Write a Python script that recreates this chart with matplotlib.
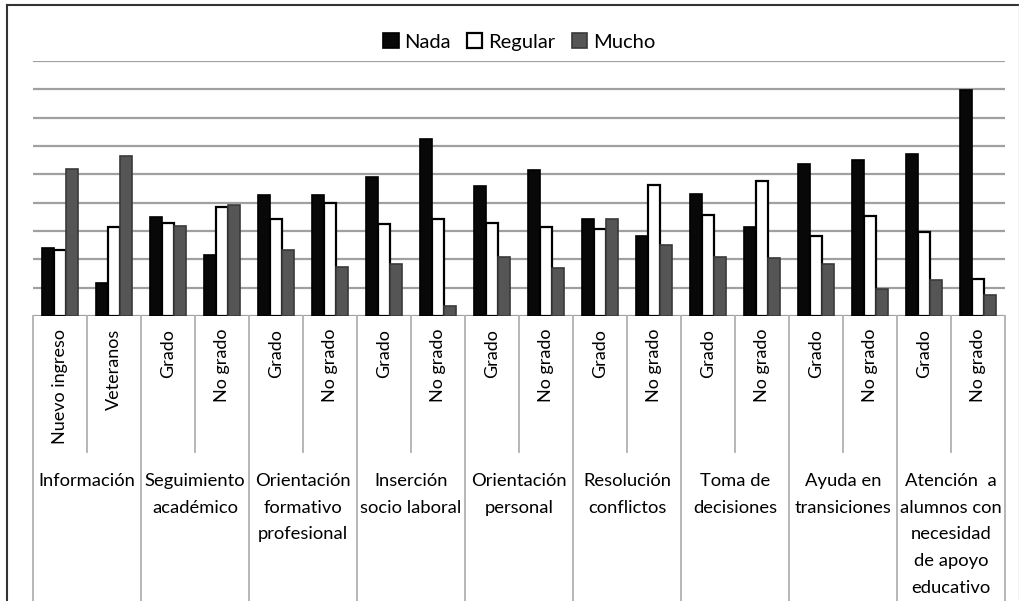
import matplotlib.pyplot as plt
import matplotlib.transforms as mtransforms
from matplotlib.lines import Line2D
import numpy as np

plt.rcParams['font.family'] = ['Lato', 'DejaVu Sans']

categorias = ["Información", "Seguimiento\nacadémico", "Orientación\nformativo\nprofesional",
              "Inserción\nsocio laboral", "Orientación\npersonal", "Resolución\nconflictos",
              "Toma de\ndecisiones", "Ayuda en\ntransiciones",
              "Atención  a\nalumnos con\nnecesidad\nde apoyo\neducativo"]
subgrupos = ["Nuevo ingreso", "Veteranos"] + ["Grado", "No grado"] * 8

nada = [12.0, 5.8, 17.4, 10.7, 21.4, 21.4, 24.5, 31.2, 23.0,
        25.7, 17.2, 14.2, 21.6, 15.7, 26.8, 27.6, 28.6, 39.8]
regular = [11.7, 15.7, 16.4, 19.2, 17.1, 19.9, 16.3, 17.1, 16.4,
           15.7, 15.3, 23.1, 17.9, 23.9, 14.1, 17.6, 14.9, 6.5]
mucho = [26.0, 28.3, 15.9, 19.6, 11.7, 8.6, 9.2, 1.8, 10.4,
         8.4, 17.2, 12.5, 10.4, 10.2, 9.2, 4.8, 6.3, 3.7]

W, H = 1020, 601
fig = plt.figure(figsize=(W / 100, H / 100), dpi=100)
ax = fig.add_axes([33 / W, 1 - 316 / H, (1005 - 33) / W, (316 - 61) / H])

x = np.arange(len(subgrupos)) + 0.5
w = 0.225
ax.bar(x - w, nada, w, color="#080808", edgecolor="#000000", linewidth=1.2, label="Nada", zorder=3)
ax.bar(x, regular, w, color="white", edgecolor="#000000", linewidth=1.6, label="Regular", zorder=3)
ax.bar(x + w, mucho, w, color="#555555", edgecolor="#3a3a3a", linewidth=1.2, label="Mucho", zorder=3)

ax.set_xlim(0, len(subgrupos))
ax.set_ylim(0, 45)
ax.set_yticks(np.arange(0, 46, 5))
ax.yaxis.grid(True, color="#a0a0a0", linewidth=1.6, zorder=0)
ax.set_axisbelow(True)
ax.tick_params(left=False, bottom=False, labelleft=False, labelbottom=False)
for s in ax.spines.values():
    s.set_visible(False)

# table of labels under the axis
tr = mtransforms.blended_transform_factory(ax.transData, fig.transFigure)
fy = lambda py: 1 - py / H
for i in range(len(subgrupos) + 1):
    bottom = fy(452) if i % 2 == 1 else 0
    ax.add_line(Line2D([i, i], [fy(316), bottom], transform=tr, color="#b0b0b0",
                       linewidth=1.3, clip_on=False))
for i, lab in enumerate(subgrupos):
    ax.text(i + 0.5, fy(329), lab, transform=tr, rotation=90, ha="center", va="top",
            fontsize=13, color="#000000")
for j, lab in enumerate(categorias):
    ax.text(2 * j + 1, fy(473), lab, transform=tr, ha="center", va="top",
            fontsize=13.2, color="#000000", linespacing=1.82)

fig.legend(loc="center", bbox_to_anchor=(0.509, fy(42)), ncol=3, frameon=False,
           fontsize=14.5, handlelength=0.75, handleheight=0.75, handletextpad=0.3,
           columnspacing=0.8)

# outer frame
fig.add_artist(Line2D([7 / W, 1], [fy(5), fy(5)], transform=fig.transFigure,
                      color="#333333", linewidth=1.5))
fig.add_artist(Line2D([7 / W, 7 / W], [0, fy(5)], transform=fig.transFigure,
                      color="#333333", linewidth=1.5))
fig.add_artist(Line2D([1019 / W, 1019 / W], [0, fy(5)], transform=fig.transFigure,
                      color="#c8c8c8", linewidth=1.0))

fig.savefig("out.png", dpi=100)
